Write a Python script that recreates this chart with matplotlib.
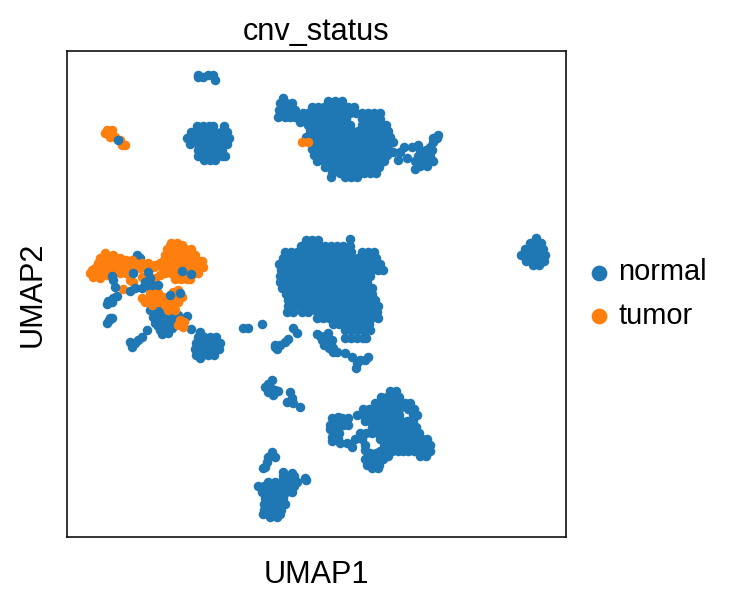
import numpy as np
import matplotlib
matplotlib.use('Agg')
import matplotlib.pyplot as plt

plt.rcParams['font.family'] = ['Liberation Sans', 'DejaVu Sans']

# values, each row is (umap2, [umap1, ...])
top_small = [(77, [198, 203]), (75, [208, 213]), (80, [215]), (75, [198])]

left_top = [
    (126, [197, 203, 209, 213, 224]),
    (132, [191, 197, 203, 209, 215, 221, 227]),
    (138, [187, 193, 199, 205, 211, 217, 223, 229]),
    (144, [190, 198, 204, 210, 216, 222, 227]),
    (150, [198, 204, 210, 216, 222]),
    (156, [198, 204, 210, 216, 222, 225]),
    (160, [204, 210, 215]),
]

top_big = [
    (98, [283]), (103, [292, 286, 280]), (107, [282, 288]), (110, [290, 295, 279]),
    (117, [278, 285, 295, 290, 302]), (122, [300]), (112, [284]),
    (101, [328, 335, 342]),
    (107, [312, 318, 324, 330, 336, 342, 348, 354]),
    (113, [303, 308, 314, 320, 326, 332, 338, 344, 350, 356, 362, 368, 374, 380]),
    (119, [305, 311, 317, 323, 329, 335, 341, 346, 362, 368, 374, 380]),
    (125, [308, 314, 320, 326, 332, 338, 344, 350, 362, 368, 374, 380, 386]),
    (131, [310, 316, 322, 328, 334, 340, 346, 352, 358, 364, 370, 376, 382, 388]),
    (137, [306, 312, 318, 324, 330, 336, 342, 348, 354, 360, 366, 372, 378, 384, 390]),
    (143, [315, 321, 327, 333, 339, 345, 351, 357, 363, 369, 375, 381, 387]),
    (149, [312, 318, 324, 330, 336, 342, 348, 354, 360, 366, 372, 378, 384, 388]),
    (155, [314, 321, 327, 333, 339, 345, 351, 357, 363, 369, 375, 381, 387]),
    (161, [317, 324, 330, 336, 342, 348, 354, 360, 366, 372, 378, 384]),
    (167, [325, 331, 337, 343, 349, 355, 361, 367, 373, 379]),
    (173, [332, 340, 346, 352, 358, 364, 370, 376]),
    (177, [331, 345, 351, 357]),
]

top_tail = [
    (142, [393, 433]), (147, [404, 412, 430]), (145, [418]),
    (152, [393, 400]), (158, [407]), (160, [398]),
    (150, [420, 426, 432]), (156, [418, 424, 430]),
    (161, [415, 421, 427, 433]), (166, [420, 427]), (169, [415]),
    (135, [438]), (138, [437, 433]),
]

mid_big = [
    (239, [350]),
    (240, [306, 312, 318]),
    (246, [301, 307, 313, 319, 325, 331, 337, 343, 350]),
    (252, [285, 291, 297, 303, 309, 315, 321, 327, 333, 339, 345, 351, 362, 368, 374]),
    (258, [283, 289, 295, 301, 307, 313, 319, 325, 331, 337, 343, 350, 358, 364, 370, 376]),
    (264, [279, 285, 291, 297, 303, 309, 315, 321, 327, 333, 339, 345, 351, 357, 363, 369, 375, 380]),
    (270, [281, 288, 294, 300, 306, 312, 318, 324, 330, 336, 342, 348, 354, 360, 366, 372, 378, 383]),
    (276, [280, 285, 291, 297, 303, 309, 315, 321, 327, 333, 339, 345, 351, 357, 363, 370]),
    (282, [280, 288, 295, 301, 307, 313, 319, 325, 331, 337, 343, 349, 355, 361, 367]),
    (288, [282, 288, 294, 300, 306, 312, 318, 324, 330, 336, 342, 348, 354, 360, 366, 372]),
    (294, [286, 292, 298, 304, 310, 316, 322, 328, 334, 340, 345, 351, 357, 363, 368, 372]),
    (300, [288, 294, 300, 306, 312, 318, 324, 330, 336, 342, 348, 354, 360, 366, 372, 375]),
    (306, [288, 295, 301, 307, 313, 319, 325, 331, 337, 341, 345, 351, 357, 363, 369, 375, 378]),
    (312, [287, 293, 302, 308, 317, 323, 329, 335, 341, 348, 354, 360, 366, 372, 377]),
    (318, [317, 323, 329, 335, 341, 347, 353, 359, 365, 371, 378]),
    (324, [333, 339, 345, 351, 357, 363, 369]),
    (330, [345, 351, 357, 363, 370]),
    (338, [345, 351, 357, 363, 366]),
]

mid_bits = [
    (328, [243, 248, 293]), (324, [262]), (333, [297]),
    (347, [275]), (345, [280, 275]), (342, [285]), (339, [288]), (349, [277]),
    (334, [317]), (340, [322, 332, 327]), (333, [328]), (336, [325, 320]),
    (345, [327, 331, 324]), (348, [333, 329]), (352, [337, 333]),
    (353, [345]), (357, [352, 368]), (363, [357]), (360, [360, 365]), (368, [356]),
]

left_blue = [
    (332, [200]), (337, [198, 204, 210, 216]),
    (343, [196, 202, 208, 214, 220]), (349, [195, 201, 207, 213, 219]),
    (355, [196, 202, 208, 214]), (358, [200]),
    (330, [147]), (337, [142]), (340, [138]), (343, [135]), (342, [130]), (347, [132]),
    (318, [110, 112]), (323, [107]), (301, [108]), (298, [113]), (296, [117]),
    (304, [107]), (302, [112]), (320, [109]),
    (310, [150]), (308, [157]), (305, [158]), (317, [153, 160, 173]),
    (315, [167, 178]), (316, [187]), (323, [155, 162, 168, 174]),
    (330, [160, 167]), (328, [172]), (334, [162]), (333, [168]), (329, [191]),
    (312, [155, 162, 169]), (326, [158, 165]),
    (255, [137]), (258, [140]), (246, [170]),
]

left_blue_over = [
    (280, [113]), (287, [115]), (276, [112]), (273, [133]),
    (272, [148]), (278, [150]), (282, [145]), (288, [142, 135]), (291, [130]),
    (285, [152, 158, 147]), (295, [170]), (293, [180]),
    (271, [182]), (274, [191]),
]

right_blob = [
    (238, [536]), (243, [530, 536, 541]), (249, [525, 531, 537, 543]),
    (255, [521, 527, 533, 539, 545]), (261, [526, 532, 538, 544]), (265, [533, 539]),
]

low_small = [
    (380, [272]), (387, [265, 270]), (390, [275]), (392, [268, 290]),
    (395, [273]), (391, [278]), (398, [292]), (402, [287]), (403, [293]), (407, [300]),
    (384, [268]),
]

low_left = [
    (452, [272]), (457, [275, 268]), (462, [267]), (467, [265]), (468, [263]),
    (478, [305]), (480, [306]), (472, [283]), (473, [292]),
    (476, [283, 289, 294]), (482, [268, 275, 281, 287, 293, 297]),
    (486, [258, 264, 270, 276, 282, 288, 294]), (492, [262, 268, 274, 280, 286, 292]),
    (498, [265, 271, 277, 283]), (504, [264, 270, 276, 282, 285]),
    (510, [264, 270, 276, 281]), (514, [263, 269, 275, 280]), (517, [270, 277]),
]

low_right = [
    (418, [332, 342, 348]), (417, [338]), (425, [330, 337, 343, 348]), (433, [333, 339]),
    (441, [332]), (438, [338]), (443, [340, 347]), (447, [352]), (445, [365]), (450, [365]),
    (429, [330]), (421, [336]), (437, [332]),
    (391, [390, 396]), (397, [381, 387, 393, 399]),
    (403, [375, 381, 387, 393, 399, 405, 410]),
    (409, [363, 369, 375, 381, 387, 393, 399, 408, 414]),
    (415, [357, 363, 369, 375, 381, 387, 393, 399, 413, 417]),
    (421, [365, 371, 377, 383, 389, 395, 401, 407, 413]),
    (427, [372, 378, 384, 390, 396, 405, 411, 416]),
    (433, [360, 366, 372, 378, 384, 390, 396, 402, 408, 414, 419]),
    (439, [355, 362, 380, 386, 392, 398, 404, 410, 416, 422, 427]),
    (445, [384, 390, 396, 402, 408, 414, 420, 426, 430]),
    (451, [380, 386, 392, 398, 403, 408, 414, 420, 426, 430]),
    (456, [388, 420, 426]),
    (453, [370, 376, 382]), (459, [365, 371, 377, 383]),
    (465, [367, 373, 379]), (468, [372, 378]),
]

tumor_small = [
    (133, [108, 105]), (130, [112, 107]), (137, [110, 115]),
    (140, [120]), (145, [122, 125]), (142, [302, 308]),
]

tumor_arm = [
    (273, [90, 113, 120, 126]), (268, [95, 107, 127, 133, 140]), (263, [98, 113, 135, 142, 104, 120]),
    (253, [105]), (260, [107, 132, 126]), (255, [113]), (272, [100, 106]), (258, [120, 112]),
    (267, [120, 148, 162, 170, 154]), (262, [127]), (277, [93]), (275, [107]), (278, [100]),
    (265, [155]), (258, [100]), (270, [92, 104, 98, 114]), (266, [102, 113]),
    (263, [148, 160]), (272, [96]),
]

tumor_blob = [
    (243, [171, 177]), (245, [182]),
    (249, [167, 173, 179, 185, 191]),
    (255, [165, 171, 177, 183, 189, 195]),
    (261, [163, 169, 175, 181, 187, 193, 199, 202]),
    (267, [163, 169, 175, 181, 187, 193, 199, 203]),
    (273, [165, 171, 177, 183, 189, 195, 198]),
    (279, [175, 181, 187, 190]),
]

tumor_low = [
    (289, [123, 155]), (280, [130]), (282, [133]), (277, [142]), (278, [155]), (275, [160]),
    (298, [142, 150]), (302, [145, 158, 178]), (305, [152, 165]), (297, [163, 182, 160, 153]),
    (303, [170]), (308, [172]), (290, [178]), (310, [175, 168]),
    (325, [178]), (327, [183]), (320, [180]), (301, [151, 164]), (304, [175]),
    (293, [150, 158]), (292, [173]), (299, [175]), (322, [184]),
]


def points(*groups):
    xs, ys = [], []
    for rows in groups:
        for y, row in rows:
            xs += row
            ys += [y] * len(row)
    return np.array(xs), np.array(ys)


normal_x, normal_y = points(top_small, left_top, top_big, top_tail, mid_big, mid_bits,
                            left_blue, right_blob, low_small, low_left, low_right)
tumor_x, tumor_y = points(tumor_small, tumor_arm, tumor_blob, tumor_low)
over_x, over_y = points(left_blue_over, [(140, [118])])

W, H = 733, 605
fig = plt.figure(figsize=(W / 150, H / 150), dpi=150)
ax = fig.add_axes([67 / W, (H - 537) / H, 499 / W, 486 / H])

blue = '#1f77b4'
orange = '#ff7f0e'
size = 21
ax.scatter(normal_x, normal_y, s=size, c=blue, linewidths=0, label='normal')
ax.scatter(tumor_x, tumor_y, s=size, c=orange, linewidths=0, label='tumor')
ax.scatter(over_x, over_y, s=size, c=blue, linewidths=0)

ax.set_xlim(67, 566)
ax.set_ylim(537, 51)
ax.set_xticks([])
ax.set_yticks([])
for s in ax.spines.values():
    s.set_linewidth(0.8)
    s.set_color('#111111')

ax.set_title('cnv_status', fontsize=14.7, pad=5.5)
ax.set_xlabel('UMAP1', fontsize=14.7, labelpad=11)
ax.set_ylabel('UMAP2', fontsize=14.7, labelpad=9.5)

ax.legend(frameon=False, loc='center left', bbox_to_anchor=(1, 0.5), fontsize=13.9,
          markerscale=1.65, handlelength=1.3, handletextpad=0.0, labelspacing=0.52,
          borderpad=0, borderaxespad=0.5)

fig.savefig('out.png', dpi=150)
